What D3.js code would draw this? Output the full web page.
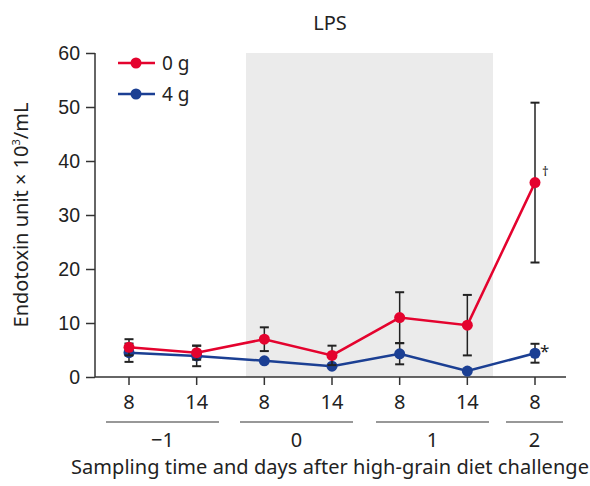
<!DOCTYPE html>
<html lang="en">
<head>
<meta charset="utf-8" />
<title>LPS</title>
<style>
html, body { margin: 0; padding: 0; background: #fff; }
svg { display: block; }
text { font-family: "Noto Sans", sans-serif; fill: #222; }
</style>
</head>
<body>
<svg width="590" height="486"></svg>
<script src="https://cdn.jsdelivr.net/npm/d3@7/dist/d3.min.js"></script>
<script>

// sampling points (hour) and day groups
var hours = ["8", "14", "8", "14", "8", "14", "8"];
var days = ["\u22121", "0", "1", "2"];

// endotoxin means and SD
var red0g = [5.5, 4.5, 7.0, 4.0, 11.0, 9.6, 36.0];
var red0gSd = [1.5, 1.3, 2.2, 1.8, 4.7, 5.6, 14.8];
var blue4g = [4.5, 3.9, 3.0, 2.0, 4.3, 1.1, 4.4];
var blue4gSd = [1.7, 1.9, 0, 0, 1.95, 0, 1.75];

var yTicks = [0, 10, 20, 30, 40, 50, 60];

var svg = d3.select("svg");
var mLeft = 95, mRight = 566, mTop = 53, mBottom = 377;

var x = d3.scaleLinear().domain([0, 6]).range([129, 535]);
var y = d3.scaleLinear().domain([0, 60]).range([mBottom, mTop]);

var RED = "#e4032e", BLUE = "#1b3f93", INK = "#333";

// shaded challenge period
svg.append("rect")
	.attr("x", 246).attr("y", y(60))
	.attr("width", 493 - 246).attr("height", mBottom - y(60))
	.attr("fill", "#ebebeb");

// y axis
var yAxis = svg.append("g")
	.attr("transform", "translate(" + mLeft + ",0)")
	.call(d3.axisLeft(y).tickValues(yTicks).tickSize(9).tickPadding(6));
yAxis.select(".domain").attr("stroke", INK).attr("stroke-width", 1.5).attr("d", "M0," + y(60) + "V" + mBottom);
yAxis.selectAll(".tick line").attr("stroke", INK).attr("stroke-width", 1.5);
yAxis.selectAll(".tick text").attr("font-size", 19.5).attr("fill", "#222")
	.style("font-family", "'Liberation Sans', sans-serif");

// x axis
svg.append("line")
	.attr("x1", mLeft).attr("x2", mRight).attr("y1", mBottom).attr("y2", mBottom)
	.attr("stroke", INK).attr("stroke-width", 1.5);
svg.append("g").selectAll("line").data(hours).join("line")
	.attr("x1", function(d, i){ return x(i); })
	.attr("x2", function(d, i){ return x(i); })
	.attr("y1", mBottom).attr("y2", mBottom + 8)
	.attr("stroke", INK).attr("stroke-width", 1.5);
svg.append("g").selectAll("text").data(hours).join("text")
	.attr("x", function(d, i){ return x(i); })
	.attr("y", 409)
	.attr("text-anchor", "middle")
	.attr("font-size", 20)
	.text(function(d){ return d; });

// day group brackets
var groupLines = [[106, 219], [240, 353], [376, 489], [506, 563]];
svg.append("g").selectAll("line").data(groupLines).join("line")
	.attr("x1", function(d){ return d[0]; })
	.attr("x2", function(d){ return d[1]; })
	.attr("y1", 422).attr("y2", 422)
	.attr("stroke", INK).attr("stroke-width", 1.2);
svg.append("g").selectAll("text").data(days).join("text")
	.attr("x", function(d, i){ return (groupLines[i][0] + groupLines[i][1]) / 2; })
	.attr("y", 447)
	.attr("text-anchor", "middle")
	.attr("font-size", 20)
	.text(function(d){ return d; });

svg.append("text")
	.attr("x", 330).attr("y", 474)
	.attr("text-anchor", "middle")
	.attr("font-size", 20)
	.attr("textLength", 518)
	.text("Sampling time and days after high-grain diet challenge");

// y label
svg.append("text")
	.attr("transform", "translate(28,215) rotate(-90)")
	.attr("text-anchor", "middle")
	.attr("font-size", 20)
	.html("Endotoxin unit \u00d7 10<tspan dy='-8' font-size='11'>3</tspan><tspan dy='8'>/mL</tspan>");

// title
svg.append("text")
	.attr("x", 330).attr("y", 30)
	.attr("text-anchor", "middle")
	.attr("font-size", 20)
	.text("LPS");

// series
var series = [
	{ name: "0 g", color: RED, values: red0g, sd: red0gSd },
	{ name: "4 g", color: BLUE, values: blue4g, sd: blue4gSd }
];

var line = d3.line()
	.x(function(d, i){ return x(i); })
	.y(function(d){ return y(d); });

series.slice().reverse().forEach(function(s){
	var g = svg.append("g");
	g.append("path")
		.attr("d", line(s.values))
		.attr("fill", "none")
		.attr("stroke", s.color)
		.attr("stroke-width", 2.5);

	s.values.forEach(function(v, i){
		if (s.sd[i] <= 0) return;
		var lo = y(v - s.sd[i]), hi = y(v + s.sd[i]), cx = x(i);
		g.append("line").attr("x1", cx).attr("x2", cx).attr("y1", lo).attr("y2", hi)
			.attr("stroke", "#222").attr("stroke-width", 1.5);
		[lo, hi].forEach(function(yy){
			g.append("line").attr("x1", cx - 4.5).attr("x2", cx + 4.5).attr("y1", yy).attr("y2", yy)
				.attr("stroke", "#222").attr("stroke-width", 2);
		});
	});

	g.selectAll("circle").data(s.values).join("circle")
		.attr("cx", function(d, i){ return x(i); })
		.attr("cy", function(d){ return y(d); })
		.attr("r", 5.5)
		.attr("fill", s.color);
});

// significance marks
svg.append("text")
	.attr("x", x(6) + 7).attr("y", y(red0g[6]) - 7)
	.attr("font-size", 13).attr("fill", "#666")
	.text("\u2020");
svg.append("text")
	.attr("x", x(6) + 5).attr("y", y(blue4g[6]) + 4)
	.attr("font-size", 17).attr("fill", "#333")
	.text("*");

// legend
var legend = svg.append("g");
series.forEach(function(s, i){
	var ly = 63 + i * 31;
	legend.append("line")
		.attr("x1", 118).attr("x2", 155).attr("y1", ly).attr("y2", ly)
		.attr("stroke", s.color).attr("stroke-width", 2.5);
	legend.append("circle")
		.attr("cx", 136).attr("cy", ly).attr("r", 5.5).attr("fill", s.color);
	legend.append("text")
		.attr("x", 162).attr("y", ly + 7)
		.attr("font-size", 19)
		.text(s.name);
});

</script>
</body>
</html>
